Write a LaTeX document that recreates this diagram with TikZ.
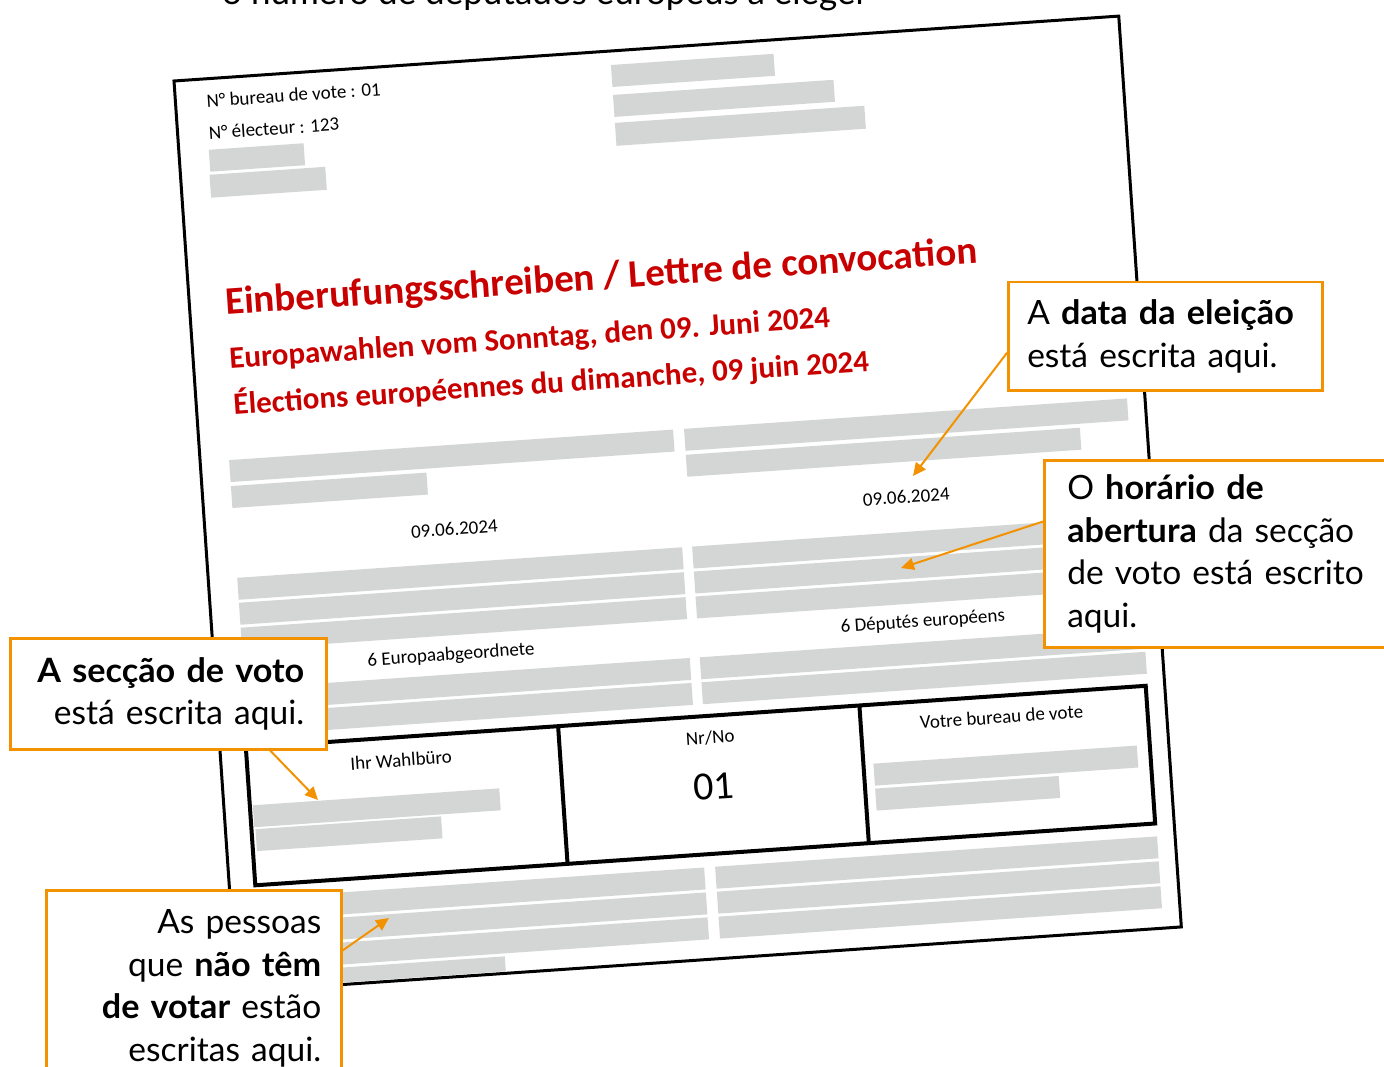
\documentclass[tikz,border=0pt]{standalone}
\usepackage{fontspec}
\setmainfont{Carlito}
\newfontfamily\callfont[BoldFeatures={FakeStretch=1.02}]{Lato}
\usetikzlibrary{arrows.meta,calc}
\definecolor{barg}{RGB}{212,214,213}
\definecolor{docred}{RGB}{200,0,0}
\definecolor{orng}{RGB}{243,146,0}
\begin{document}
\begin{tikzpicture}[x=1pt,y=-1pt,
  bar/.style={fill=barg},
  doctext/.style={inner sep=0pt,font=\fontsize{19}{23}\selectfont},
  bigred/.style={inner sep=0pt,text=docred,font=\bfseries\fontsize{39}{47}\selectfont},
  subred/.style={inner sep=0pt,text=docred,font=\bfseries\fontsize{31}{37}\selectfont},
  pageline/.style={line width=3pt},
  tbl/.style={line width=4pt},
  callout/.style={draw=orng,line width=2.5pt,fill=white,inner ysep=0pt,
    font=\callfont\fontsize{33.5}{42.5}\selectfont},
  arr/.style={draw=orng,line width=2pt,-{Triangle[length=13pt,width=12pt]}}]
\useasboundingbox (0,0) rectangle (1384,1067);
\clip (0,0) rectangle (1384,1067);
\fill[white] (0,0) rectangle (1384,1067);

\node[inner sep=0pt,anchor=base west,font=\callfont\fontsize{35}{40}\selectfont] (toptext) at (222,5) {o número de deputados europeus a eleger};

\begin{scope}[shift={(174,81)},rotate=3.93,transform shape]
  \draw[pageline] (0,0) rectangle (947,913);
  % header
  \node[doctext,anchor=west] (nbv) at (31,22) {N° bureau de vote : 01};
  \node[doctext,anchor=west] (nel) at (31,54) {N° électeur : 123};
  \fill[bar] (30,71) rectangle (125,93);
  \fill[bar] (29,96) rectangle (145,119);
  \fill[bar] (437,14) rectangle (600,36);
  \fill[bar] (437,44) rectangle (658,66);
  \fill[bar] (437,72) rectangle (687,95);
  % title
  \node[bigred,anchor=base west] (title) at (36,237) {Einberufungsschreiben / Lettre de convocation};
  \node[subred,anchor=base west] (sub1) at (36,291) {Europawahlen vom Sonntag, den 09. Juni 2024};
  \node[subred,anchor=base west] (sub2) at (37,337) {Élections européennes du dimanche, 09 juin 2024};
  % block 1
  \fill[bar] (29,382) rectangle (474,404);
  \fill[bar] (29,408) rectangle (225,430);
  \fill[bar] (485,382) rectangle (929,404);
  \fill[bar] (485,408) rectangle (880,430);
  \node[doctext] (date1) at (249,466) {09.06.2024};
  \node[doctext] (date2) at (702,465) {09.06.2024};
  % block 2
  \foreach \v in {500,525,550} {
    \fill[bar] (29,\v) rectangle (475,\v+22);
    \fill[bar] (485,\v) rectangle (929,\v+22);
  }
  \node[doctext] (nde) at (237,592) {6 Europaabgeordnete};
  \node[doctext] (nfr) at (710,591) {6 Députés européens};
  \foreach \v in {611,636} {
    \fill[bar] (29,\v) rectangle (475,\v+22);
    \fill[bar] (485,\v) rectangle (930,\v+22);
  }
  % table
  \fill[bar] (29,728) rectangle (276,750);
  \fill[bar] (30,752) rectangle (216,774);
  \fill[bar] (651,729) rectangle (915,751);
  \fill[bar] (651,754) rectangle (835,776);
  \draw[tbl] (26,670) rectangle (928,808);
  \draw[tbl] (339,670) -- (339,808);
  \draw[tbl] (641,670) -- (641,808);
  \node[doctext] (cell1) at (180,693) {Ihr Wahlbüro};
  \node[doctext] (cell2) at (490,692) {Nr/No};
  \node[inner sep=0pt,font=\fontsize{40}{48}\selectfont] (num) at (490,741) {01};
  \node[doctext] (cell3) at (782,691) {Votre bureau de vote};
  % bottom block
  \foreach \v in {821,846,871} {
    \fill[bar] (29,\v) rectangle (475,\v+22);
    \fill[bar] (486,\v) rectangle (929,\v+22);
  }
  \fill[bar] (29,896) rectangle (270,911);
\end{scope}

% callouts
\node[callout,anchor=north west,minimum width=314,minimum height=108,
  inner xsep=19,text width=276,align=left] (c1) at (1007,281)
  {A \textbf{data da eleição}\\está escrita aqui.};
\node[callout,anchor=north west,minimum width=380,minimum height=187,
  inner xsep=23,text width=334,align=left] (c2) at (1043,459)
  {O \textbf{horário de}\\\textbf{abertura} da secção\\de voto está escrito\\aqui.};
\node[callout,anchor=north west,minimum width=316,minimum height=111,
  inner xsep=22,text width=272,align=right] (c3) at (9,637)
  {\textbf{A secção de voto}\\está escrita aqui.};
\node[callout,anchor=north west,minimum width=295,minimum height=196,
  inner xsep=20,text width=255,align=right] (c4) at (45,889)
  {As pessoas\\que \textbf{não têm}\\\textbf{de votar} estão\\escritas aqui.};

\coordinate (t1) at (913,476);
\coordinate (t2) at (901,568);
\coordinate (t3) at (318,800);
\coordinate (t4) at (389,918);
\draw[arr] ($(c1.north west)!0.65!(c1.south west)$) -- (t1);
\draw[arr] ($(c2.north west)!0.33!(c2.south west)$) -- (t2);
\draw[arr] ($(c3.south west)!0.82!(c3.south east)$) -- (t3);
\draw[arr] ($(c4.north east)!0.31!(c4.south east)$) -- (t4);
\end{tikzpicture}
\end{document}
